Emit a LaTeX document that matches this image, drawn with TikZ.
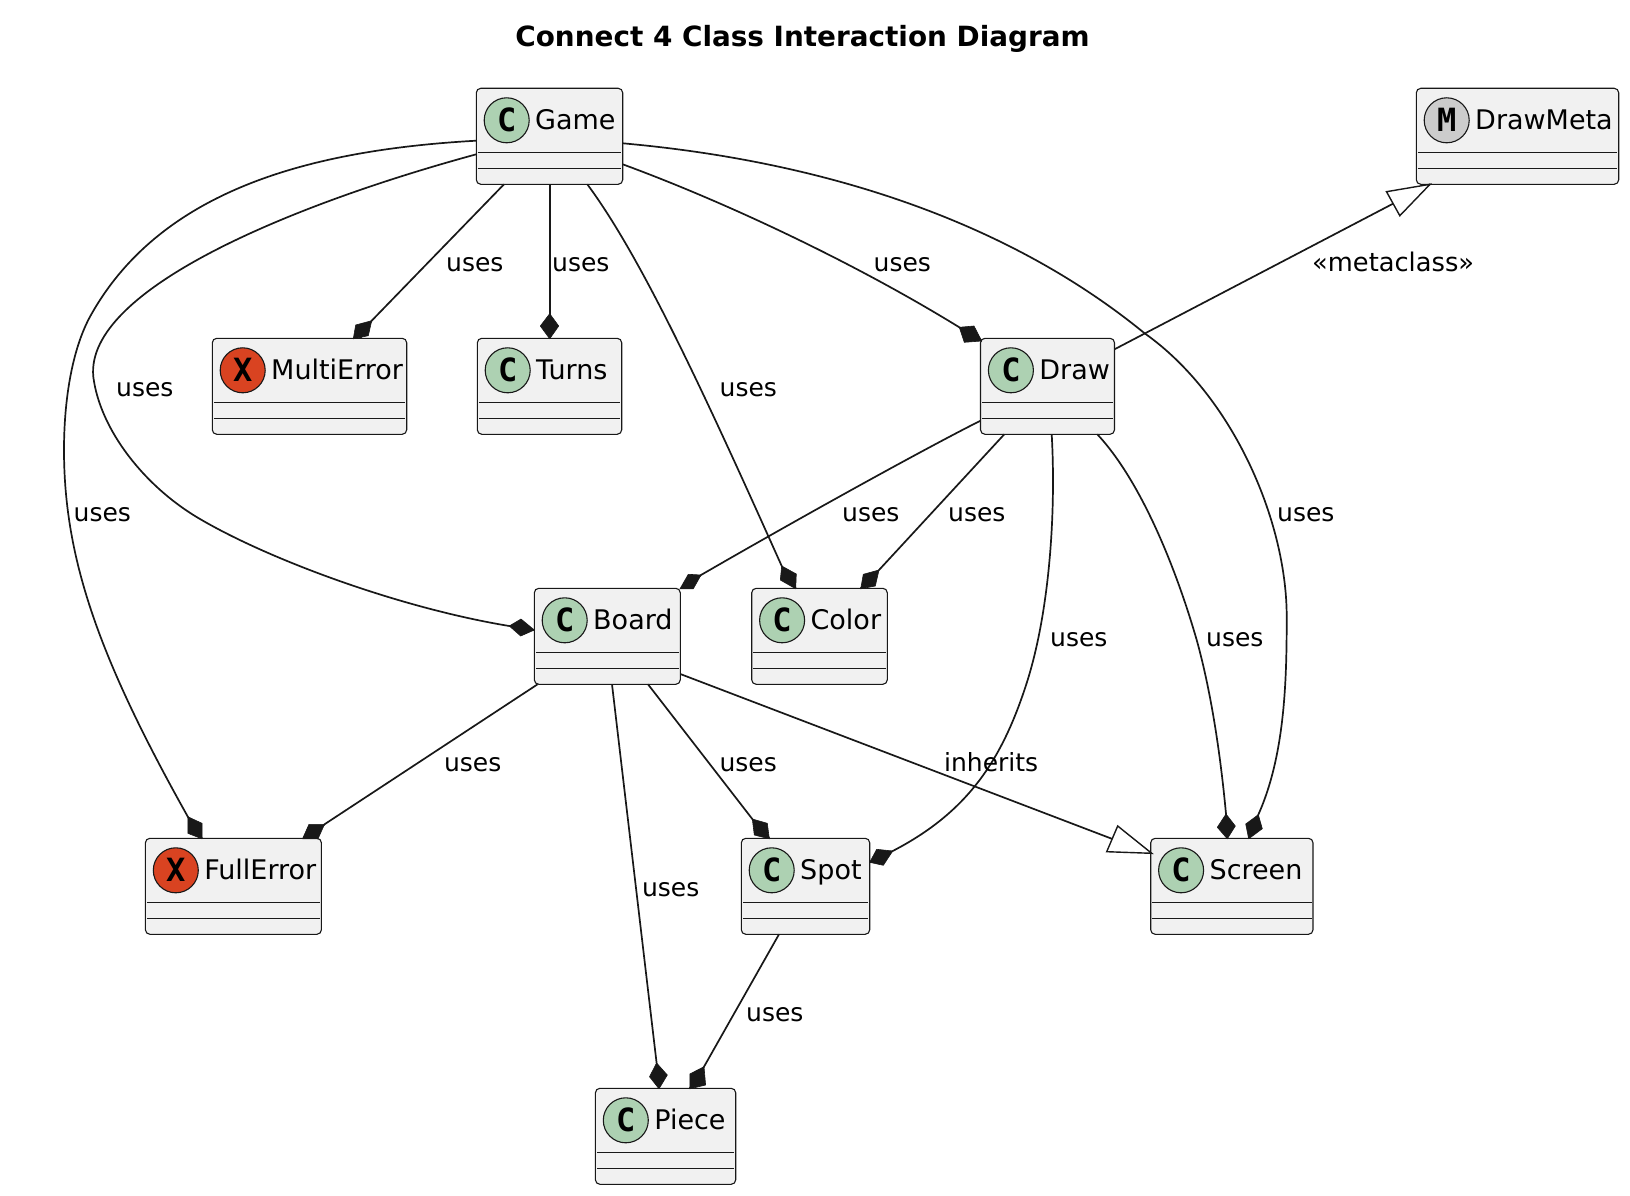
\documentclass[tikz,border=0pt]{standalone}
\usepackage{fontspec}
\setmainfont{DejaVu Sans}
\setmonofont{DejaVu Sans Mono}
\definecolor{ink}{HTML}{181818}
\definecolor{boxfill}{HTML}{F1F1F1}
\definecolor{spotc}{HTML}{ADD1B2}
\definecolor{spotx}{HTML}{D94321}
\definecolor{spotm}{HTML}{CCCCCC}
\tikzset{
  classbox/.style={draw=ink,fill=boxfill,line width=1.1pt,rounded corners=4.5pt,minimum height=96pt,inner sep=0pt,outer sep=0pt},
  spotdisc/.style={circle,draw=ink,line width=1.1pt,minimum size=45pt,inner sep=0pt,font=\fontsize{32}{32}\selectfont\ttfamily\bfseries},
  classname/.style={inner sep=0pt,font=\fontsize{27}{32}\selectfont},
  divider/.style={draw=ink,line width=1.1pt},
  edge/.style={draw=ink,line width=1.7pt},
  tipfill/.style={fill=ink,draw=ink,line width=.6pt,line join=round},
  tipopen/.style={fill=white,draw=ink,line width=1.4pt,line join=miter},
  lbl/.style={anchor=base west,inner sep=0pt,font=\fontsize{25}{30}\selectfont},
}
\newcommand\umlclass[7]{%
  \pgfmathsetmacro\bw{#3-#2}%
  \node[classbox,minimum width=\bw pt,anchor=north west] (#1) at (#2,#4) {};
  \node[spotdisc,fill=#6] (#1-spot) at ([shift={(30.4,32)}]#1.north west) {#5};
  \node[classname,anchor=base west] (#1-name) at ([shift={(58.7,41)}]#1.north west) {#7};
  \draw[divider] ([shift={(1.5,64)}]#1.north west) -- ([shift={(-1.5,64)}]#1.north east);
  \draw[divider] ([shift={(1.5,80)}]#1.north west) -- ([shift={(-1.5,80)}]#1.north east);
}
\begin{document}
\begin{tikzpicture}[x=1pt,y=-1pt]
\useasboundingbox (0,0) rectangle (1630,1196);
\fill[white] (0,0) rectangle (1630,1196);
\node[inner sep=0pt,anchor=base,font=\fontsize{27.85}{32}\selectfont\bfseries] (title) at (802.5,47) {Connect 4 Class Interaction Diagram};

\umlclass{game}{476.3}{622.7}{88.3}{C}{spotc}{Game}
\umlclass{meta}{1416.3}{1618.7}{88.3}{M}{spotm}{DrawMeta}
\umlclass{multi}{212.3}{406.7}{338.3}{X}{spotx}{MultiError}
\umlclass{turns}{477.3}{621.7}{338.3}{C}{spotc}{Turns}
\umlclass{drawc}{980.5}{1114.5}{338.3}{C}{spotc}{Draw}
\umlclass{board}{534.3}{680.3}{588.3}{C}{spotc}{Board}
\umlclass{color}{751.7}{887.3}{588.3}{C}{spotc}{Color}
\umlclass{full}{145.4}{321.4}{838.3}{X}{spotx}{FullError}
\umlclass{spotc}{741.3}{869.7}{838.3}{C}{spotc}{Spot}
\umlclass{screen}{1150.7}{1313}{838.3}{C}{spotc}{Screen}
\umlclass{piece}{595.4}{735.7}{1088.3}{C}{spotc}{Piece}

% Game edges
\draw[edge] ([shift={(0,52.4)}]game.north west) .. controls (310,150) and (160,190) .. (90,316.7)
  .. controls (72,350) and (64,400) .. (64,450)
  .. controls (64,560) and (100,660) .. (188,817) -- ([shift={(56.6,0)}]full.north west);
\fill[tipfill] (187.8,816.7) -- (202,823.3) -- (202,838.8) -- (187.8,833.3) -- cycle;

\draw[edge] ([shift={(0,66)}]game.north west) .. controls (290,205) and (85,290) .. (93.3,376.7)
  .. controls (100,430) and (145,487) .. (200,519)
  .. controls (270,560) and (400,608) .. (509.3,626) -- ([shift={(0,41.7)}]board.north west);
\fill[tipfill] (509.3,626) -- (521,619) -- (534.3,630) -- (520.7,636) -- cycle;

\draw[edge] ([shift={(27.7,96)}]game.north west) -- (371.7,320.7) -- ([shift={(148,0)}]multi.north west);
\fill[tipfill] (371.7,320.7) -- (368.3,335.7) -- (353.3,338.8) -- (355.7,325) -- cycle;

\draw[edge] ([shift={(73.4,96)}]game.north west) -- ([shift={(72.4,0)}]turns.north west);
\fill[tipfill] (549.7,313.7) -- (558.7,326) -- (549.7,338.8) -- (540.3,326) -- cycle;

\draw[edge] ([shift={(111,96)}]game.north west) .. controls (642,258) and (705,395) .. (781.7,566) -- ([shift={(44,0)}]color.north west);
\fill[tipfill] (781.7,566) -- (796.3,574) -- (795.7,588.8) -- (780.3,580) -- cycle;

\draw[edge] ([shift={(146.4,76)}]game.north west) .. controls (720,200) and (850,260) .. (959.3,327.3) -- ([shift={(1.2,2.7)}]drawc.north west);
\fill[tipfill] (959.3,327.3) -- (974,326) -- (981.7,341) -- (964.3,342.3) -- cycle;

\draw[edge] ([shift={(146.4,55)}]game.north west) .. controls (810,160) and (1000,215) .. (1144.6,333.3)
  .. controls (1232,395) and (1286.7,520) .. (1286.7,616.7)
  .. controls (1286.7,680) and (1285,755) .. (1258.3,814.7) -- ([shift={(98,0)}]screen.north west);
\fill[tipfill] (1258.3,814.7) -- (1262.3,828.7) -- (1248.7,838.8) -- (1245.7,824) -- cycle;

% Draw edges
\draw[edge] ([shift={(0,82.4)}]drawc.north west) .. controls (930,446) and (810,512) .. (701,575) -- ([shift={(152.4,0)}]board.north west);
\fill[tipfill] (701,575) -- (688.3,574.3) -- (680,588.8) -- (693.3,588.8) -- cycle;

\draw[edge] ([shift={(23.8,96)}]drawc.north west) -- (879,570) -- ([shift={(109,0)}]color.north west);
\fill[tipfill] (879,570) -- (875.3,586) -- (860.7,588.8) -- (863.3,574.3) -- cycle;

\draw[edge] ([shift={(71.2,96)}]drawc.north west) .. controls (1056,510) and (1050,610) .. (1026.7,683)
  .. controls (1002,760) and (968,812) .. (892.7,851) -- ([shift={(128.4,24)}]spotc.north west);
\fill[tipfill] (892.7,851) -- (883.3,865.3) -- (869.7,862.3) -- (876.7,849.3) -- cycle;

\draw[edge] ([shift={(116.8,96)}]drawc.north west) .. controls (1140,480) and (1175,565) .. (1196.7,640)
  .. controls (1212,695) and (1221,760) .. (1226,814) -- ([shift={(76.6,0)}]screen.north west);
\fill[tipfill] (1226,814) -- (1235.3,826) -- (1227.3,838.8) -- (1217.3,827.3) -- cycle;

\draw[edge] ([shift={(134,11)}]drawc.north west) -- (1393,203.7) -- ([shift={(13.7,96)}]meta.north west);
\path[tipopen] (1430,184.3) -- (1386.5,191.7) -- (1399.8,215.7) -- cycle;

% Board edges
\draw[edge] ([shift={(3.3,96)}]board.north west) -- (324.5,824.3) -- ([shift={(164.9,0)}]full.north west);
\fill[tipfill] (324.5,824.3) -- (309,824.3) -- (302.5,838.8) -- (318,838.8) -- cycle;

\draw[edge] ([shift={(77.7,96)}]board.north west) -- (656.6,1063) -- ([shift={(63.6,0)}]piece.north west);
\fill[tipfill] (656.6,1063) -- (667.3,1075) -- (659,1088.8) -- (649.5,1076.7) -- cycle;

\draw[edge] ([shift={(113.7,96)}]board.north west) -- (752.3,819) -- ([shift={(28,0)}]spotc.north west);
\fill[tipfill] (752.3,819) -- (767.3,823.3) -- (769.3,838.8) -- (754.3,835) -- cycle;

\draw[edge] ([shift={(146,85.7)}]board.north west) -- (1112.2,838.9) -- ([shift={(0,15)}]screen.north west);
\path[tipopen] (1117.7,826) -- (1151.7,853.3) -- (1106.7,851.7) -- cycle;

% Spot edge
\draw[edge] ([shift={(37.7,96)}]spotc.north west) -- (704,1066.7) -- ([shift={(94.4,0)}]piece.north west);
\fill[tipfill] (704,1066.7) -- (705.6,1085) -- (689.8,1088.8) -- (689.8,1074) -- cycle;

% Labels
\node[lbl] (l1) at (446,271) {uses};
\node[lbl] (l2) at (552,271) {uses};
\node[lbl] (l3) at (873.5,271) {uses};
\node[lbl,font=\fontsize{25.7}{30}\selectfont] (l4) at (1312,271) {«metaclass»};
\node[lbl] (l5) at (116,396) {uses};
\node[lbl] (l6) at (719.5,396) {uses};
\node[lbl] (l7) at (73.5,521) {uses};
\node[lbl] (l8) at (842,521) {uses};
\node[lbl] (l9) at (948,521) {uses};
\node[lbl] (l10) at (1277,521) {uses};
\node[lbl] (l11) at (1050,646) {uses};
\node[lbl] (l12) at (1206,646) {uses};
\node[lbl] (l13) at (443.9,771) {uses};
\node[lbl] (l14) at (719.4,771) {uses};
\node[lbl] (l15) at (943.9,771) {inherits};
\node[lbl] (l16) at (641.8,896) {uses};
\node[lbl] (l17) at (746,1021) {uses};
\end{tikzpicture}
\end{document}
